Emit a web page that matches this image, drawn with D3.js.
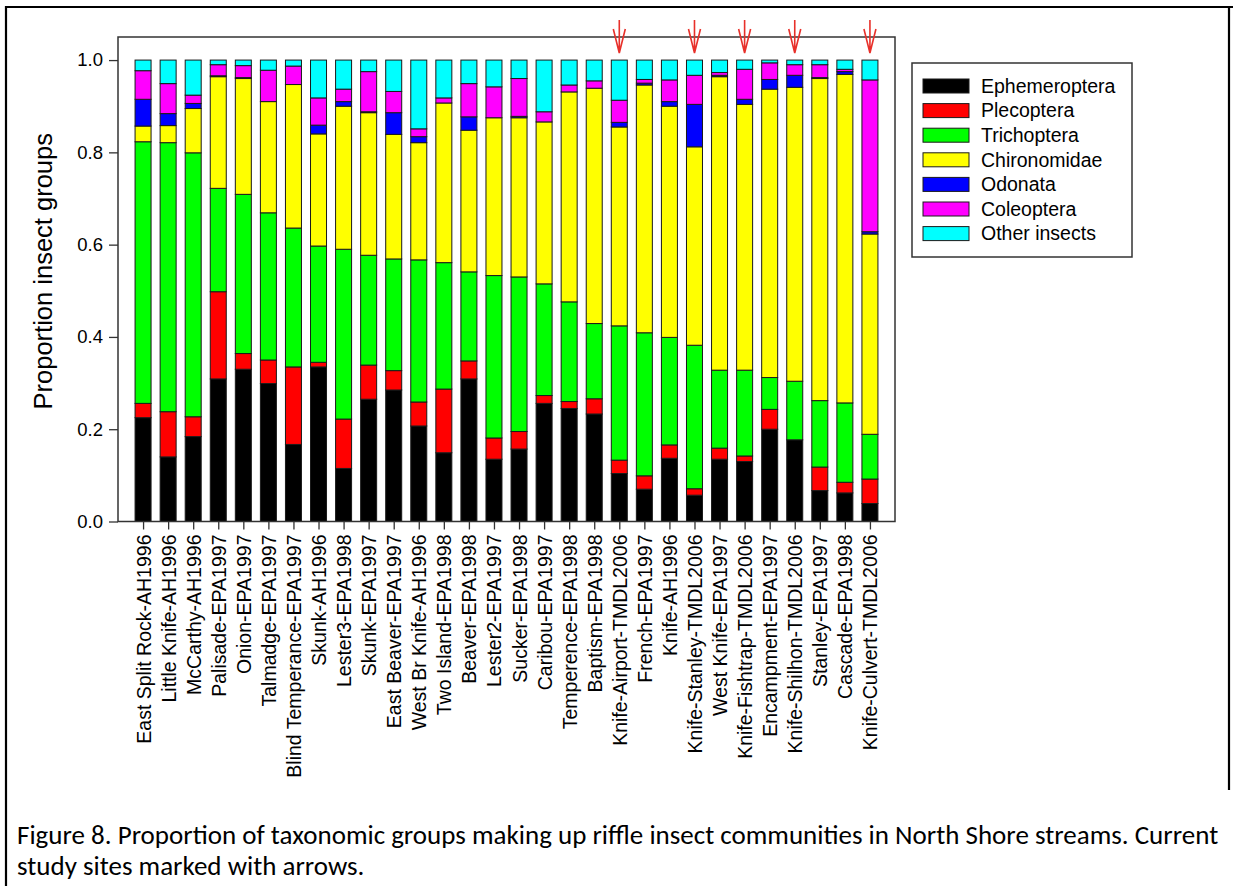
<!DOCTYPE html>
<html>
<head>
<meta charset="utf-8">
<script src="https://cdn.jsdelivr.net/npm/d3@7"></script>
<style>
  html, body { margin: 0; padding: 0; background: #fff; }
  svg { display: block; }
  .ax text { font-family: "Liberation Sans", Arial, sans-serif; fill: #000; }
</style>
</head>
<body>
<svg id="chart" width="1233" height="886"></svg>
<script>
// Sampling sites, in plotting order
const sites = [
  "East Split Rock-AH1996", "Little Knife-AH1996", "McCarthy-AH1996", "Palisade-EPA1997",
  "Onion-EPA1997", "Talmadge-EPA1997", "Blind Temperance-EPA1997", "Skunk-AH1996",
  "Lester3-EPA1998", "Skunk-EPA1997", "East Beaver-EPA1997", "West Br Knife-AH1996",
  "Two Island-EPA1998", "Beaver-EPA1998", "Lester2-EPA1997", "Sucker-EPA1998",
  "Caribou-EPA1997", "Temperence-EPA1998", "Baptism-EPA1998", "Knife-Airport-TMDL2006",
  "French-EPA1997", "Knife-AH1996", "Knife-Stanley-TMDL2006", "West Knife-EPA1997",
  "Knife-Fishtrap-TMDL2006", "Encampment-EPA1997", "Knife-Shilhon-TMDL2006", "Stanley-EPA1997",
  "Cascade-EPA1998", "Knife-Culvert-TMDL2006"
];

// Current study sites (marked with arrows)
const studySites = [
  "Knife-Airport-TMDL2006", "Knife-Stanley-TMDL2006", "Knife-Fishtrap-TMDL2006",
  "Knife-Shilhon-TMDL2006", "Knife-Culvert-TMDL2006"
];

// Proportion of each taxonomic group per site
const ephemeroptera = [.225,.140,.184,.309,.330,.299,.167,.335,.115,.265,.285,.207,.149,.309,.135,.157,.256,.245,.233,.104,.070,.137,.057,.135,.130,.200,.177,.067,.062,.039];
const plecoptera    = [.031,.098,.043,.189,.034,.051,.168,.010,.107,.074,.042,.052,.138,.039,.046,.038,.017,.015,.033,.029,.029,.029,.014,.024,.012,.043,0,.051,.023,.053];
const trichoptera   = [.567,.583,.572,.224,.345,.319,.301,.252,.368,.238,.242,.308,.274,.193,.352,.335,.242,.216,.163,.291,.310,.233,.311,.169,.186,.069,.127,.144,.172,.097];
const chironomidae  = [.034,.037,.096,.242,.251,.241,.311,.243,.310,.309,.270,.254,.346,.307,.342,.345,.351,.455,.510,.431,.537,.501,.430,.636,.576,.625,.637,.698,.712,.434];
const odonata       = [.058,.026,.011,.002,.002,0,0,.019,.010,.002,.047,.013,0,.029,0,.003,0,0,0,.010,.004,.010,.092,.003,.011,.021,.026,.002,.006,.005];
const coleoptera    = [.062,.065,.018,.024,.026,.068,.040,.059,.027,.087,.046,.017,.011,.072,.067,.082,.022,.015,.016,.048,.008,.047,.063,.006,.065,.036,.023,.028,.005,.329];
const otherInsects  = [.023,.051,.076,.010,.012,.022,.013,.082,.063,.025,.068,.149,.082,.051,.058,.040,.112,.054,.045,.087,.042,.043,.033,.027,.020,.006,.010,.010,.020,.043];

const groups = ["Ephemeroptera", "Plecoptera", "Trichoptera", "Chironomidae", "Odonata", "Coleoptera", "Other insects"];
const groupValues = [ephemeroptera, plecoptera, trichoptera, chironomidae, odonata, coleoptera, otherInsects];
const groupColors = ["#000000", "#ff0000", "#00ff00", "#ffff00", "#0000ff", "#ff00ff", "#00ffff"];

const yTicks = [0, 0.2, 0.4, 0.6, 0.8, 1.0];

// Table for d3.stack
const rows = sites.map((s, i) => {
  const r = { site: s, pos: i + 1 };
  groups.forEach((g, k) => { r[g] = groupValues[k][i]; });
  return r;
});

const svg = d3.select("#chart");
const font = '"Liberation Sans", Arial, sans-serif';

// Plot frame edges
const plotL = 118, plotR = 895, plotT = 37, plotB = 521.5;

const x = d3.scaleLinear().domain([0, sites.length + 1]).range([plotL, plotR]);
const y = d3.scaleLinear().domain([0, 1.05]).range([plotB, plotT]);
const color = d3.scaleOrdinal().domain(groups).range(groupColors);
const barW = 16;

// Page border
svg.append("path")
  .attr("d", "M6,886 V7 H1233 M1229,7 V790")
  .attr("fill", "none").attr("stroke", "#000").attr("stroke-width", 2.2);

// Stacked bars
const stacked = d3.stack().keys(groups)(rows);
svg.append("g").selectAll("g")
  .data(stacked)
  .join("g")
  .attr("fill", d => color(d.key))
  .selectAll("rect")
  .data(d => d.filter(p => p[1] - p[0] > 0))
  .join("rect")
  .attr("x", d => x(d.data.pos) - barW / 2)
  .attr("width", barW)
  .attr("y", d => y(d[1]))
  .attr("height", d => y(d[0]) - y(d[1]))
  .attr("stroke", "#1a1a1a")
  .attr("stroke-width", 1);

// Frame around the plot area
svg.append("rect")
  .attr("x", plotL).attr("y", plotT)
  .attr("width", plotR - plotL).attr("height", plotB - plotT)
  .attr("fill", "none").attr("stroke", "#333").attr("stroke-width", 1.5);

// Y axis
const yAxis = svg.append("g").attr("class", "ax")
  .attr("transform", `translate(${plotL},0)`)
  .call(d3.axisLeft(y).tickValues(yTicks).tickFormat(d3.format(".1f")).tickSize(9).tickPadding(6));
yAxis.select(".domain").remove();
yAxis.selectAll("line").attr("stroke", "#333").attr("stroke-width", 1.3);
yAxis.selectAll("text").style("font-size", "18.5px");

// X axis with rotated site labels
const xAxis = svg.append("g").attr("class", "ax")
  .attr("transform", `translate(0,${plotB})`)
  .call(d3.axisBottom(x).tickValues(rows.map(r => r.pos))
    .tickFormat(p => sites[p - 1]).tickSize(8).tickPadding(6));
xAxis.select(".domain").remove();
xAxis.selectAll("line").attr("stroke", "#333").attr("stroke-width", 1.3);
xAxis.selectAll("text")
  .style("font-size", "19.5px")
  .attr("text-anchor", "end")
  .attr("x", -13).attr("y", 0).attr("dy", "0.36em")
  .attr("transform", "rotate(-90)");

// Y axis title
svg.append("text")
  .attr("transform", `translate(52,${(plotT + plotB) / 2 - 8}) rotate(-90)`)
  .attr("text-anchor", "middle")
  .style("font-family", font).style("font-size", "25.5px")
  .text("Proportion insect groups");

// Arrows over the current study sites
const arrowColor = "#e8302a";
const arrows = svg.append("g").attr("fill", "none").attr("stroke", arrowColor)
  .attr("stroke-width", 1.6).attr("stroke-linejoin", "miter");
studySites.forEach(s => {
  const cx = x(sites.indexOf(s) + 1);
  arrows.append("path")
    .attr("d", `M${cx},20 V53 M${cx - 6},29 L${cx},53 L${cx + 6},29`);
});

// Legend
const lg = svg.append("g");
lg.append("rect")
  .attr("x", 912).attr("y", 63).attr("width", 220).attr("height", 194)
  .attr("fill", "#fff").attr("stroke", "#333").attr("stroke-width", 1.5);
groups.forEach((g, k) => {
  const cy = 86 + k * 24.6;
  lg.append("rect")
    .attr("x", 923).attr("y", cy - 7).attr("width", 46).attr("height", 14)
    .attr("fill", color(g)).attr("stroke", "#1a1a1a").attr("stroke-width", 1);
  lg.append("text")
    .attr("x", 981).attr("y", cy).attr("dy", "0.35em")
    .style("font-family", font).style("font-size", "19.5px")
    .text(g);
});

// Caption
const cap = svg.append("g")
  .style("font-family", 'Carlito, Calibri, Lato, "Open Sans", sans-serif')
  .style("font-size", "27px").attr("fill", "#000");
cap.append("text").attr("x", 17).attr("y", 844)
  .text("Figure 8. Proportion of taxonomic groups making up riffle insect communities in North Shore streams. Current");
cap.append("text").attr("x", 17).attr("y", 875)
  .text("study sites marked with arrows.");
</script>
</body>
</html>
